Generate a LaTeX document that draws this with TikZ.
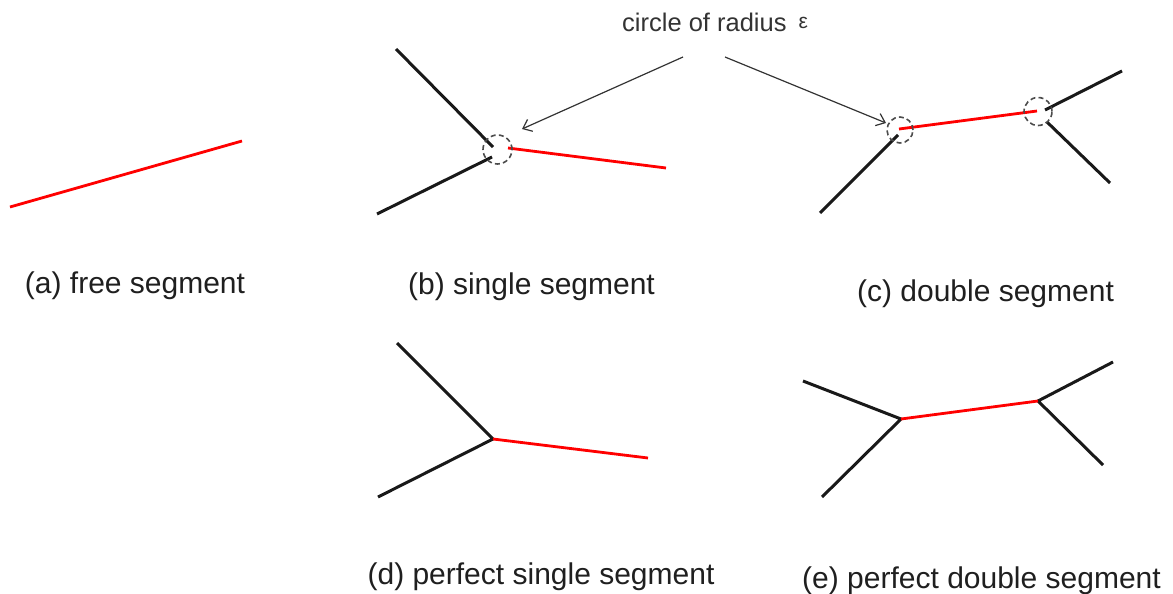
\documentclass[tikz,border=0pt]{standalone}
\usepackage{fontspec}
\setmainfont{Liberation Sans}
\usetikzlibrary{arrows.meta}
\begin{document}
\begin{tikzpicture}[x=1pt,y=-1pt,
  seg/.style={line width=3pt, black!90},
  redseg/.style={line width=2.8pt, red},
  epscirc/.style={circle, draw=black!70, dash pattern=on 5pt off 3.2pt, line width=1.6pt, inner sep=0pt},
  pointer/.style={draw=black!80, line width=1.2pt, -{Straight Barb[length=8pt,width=13pt,line width=1.2pt]}},
  lbl/.style={font=\fontsize{30}{36}\selectfont, text=black!88, anchor=base, inner sep=0pt}]
\useasboundingbox (0,0) rectangle (1173,594);

% (a) free segment
\coordinate (a1) at (10,207);
\coordinate (a2) at (242,141);
\draw[redseg] (a1) -- (a2);
\node[lbl] (la) at (135,293) {(a) free segment};

% (b) single segment
\coordinate (bu) at (396,49);
\coordinate (bue) at (493,147);
\coordinate (bl) at (377,214);
\coordinate (ble) at (492,157);
\coordinate (br1) at (508,148);
\coordinate (br2) at (666,168);
\draw[seg] (bu) -- (bue);
\draw[seg] (bl) -- (ble);
\draw[redseg] (br1) -- (br2);
\node[epscirc, minimum size=29pt] (cb) at (497.5,149.5) {};
\node[lbl] (lb) at (531.5,294) {(b) single segment};

% (c) double segment
\coordinate (cl) at (820,213);
\coordinate (cle) at (898,135);
\coordinate (cr1) at (899,129);
\coordinate (cr2) at (1037,111);
\coordinate (cu) at (1122,71);
\coordinate (cue) at (1045,110);
\coordinate (cd) at (1110,183);
\coordinate (cde) at (1047,122);
\draw[seg] (cl) -- (cle);
\draw[redseg] (cr1) -- (cr2);
\draw[seg] (cue) -- (cu);
\draw[seg] (cde) -- (cd);
\node[epscirc, minimum size=26pt] (cc1) at (900,130) {};
\node[epscirc, minimum size=28pt] (cc2) at (1038,111.5) {};
\node[lbl] (lc) at (985.5,301) {(c) double segment};

% annotation
\node[anchor=base west, inner sep=0pt, font=\fontsize{25.5}{30}\selectfont, text=black!80] (title) at (622,32)
  {circle of radius\hspace{12pt}\raisebox{3pt}{\fontsize{21}{21}\selectfont ε}};
\coordinate (sb) at (683,57);
\coordinate (tb) at (522,129);
\coordinate (sc) at (725,57);
\coordinate (tc) at (886,123);
\draw[pointer] (sb) -- (tb);
\draw[pointer] (sc) -- (tc);

% (d) perfect single segment
\coordinate (dj) at (493,439);
\coordinate (du) at (397,343);
\coordinate (dl) at (378,497);
\coordinate (dr) at (648,458);
\draw[seg] (du) -- (dj) -- (dl);
\draw[redseg] (dj) -- (dr);
\node[lbl] (ld) at (541,584) {(d) perfect single segment};

% (e) perfect double segment
\coordinate (ej1) at (901,419);
\coordinate (eu1) at (803,381);
\coordinate (el1) at (822,497);
\coordinate (ej2) at (1038,401);
\coordinate (eu2) at (1113,362);
\coordinate (el2) at (1103,465);
\draw[seg] (eu1) -- (ej1) -- (el1);
\draw[seg] (eu2) -- (ej2) -- (el2);
\draw[redseg] (ej1) -- (ej2);
\node[lbl] (le) at (981.5,588) {(e) perfect double segment};
\end{tikzpicture}
\end{document}
